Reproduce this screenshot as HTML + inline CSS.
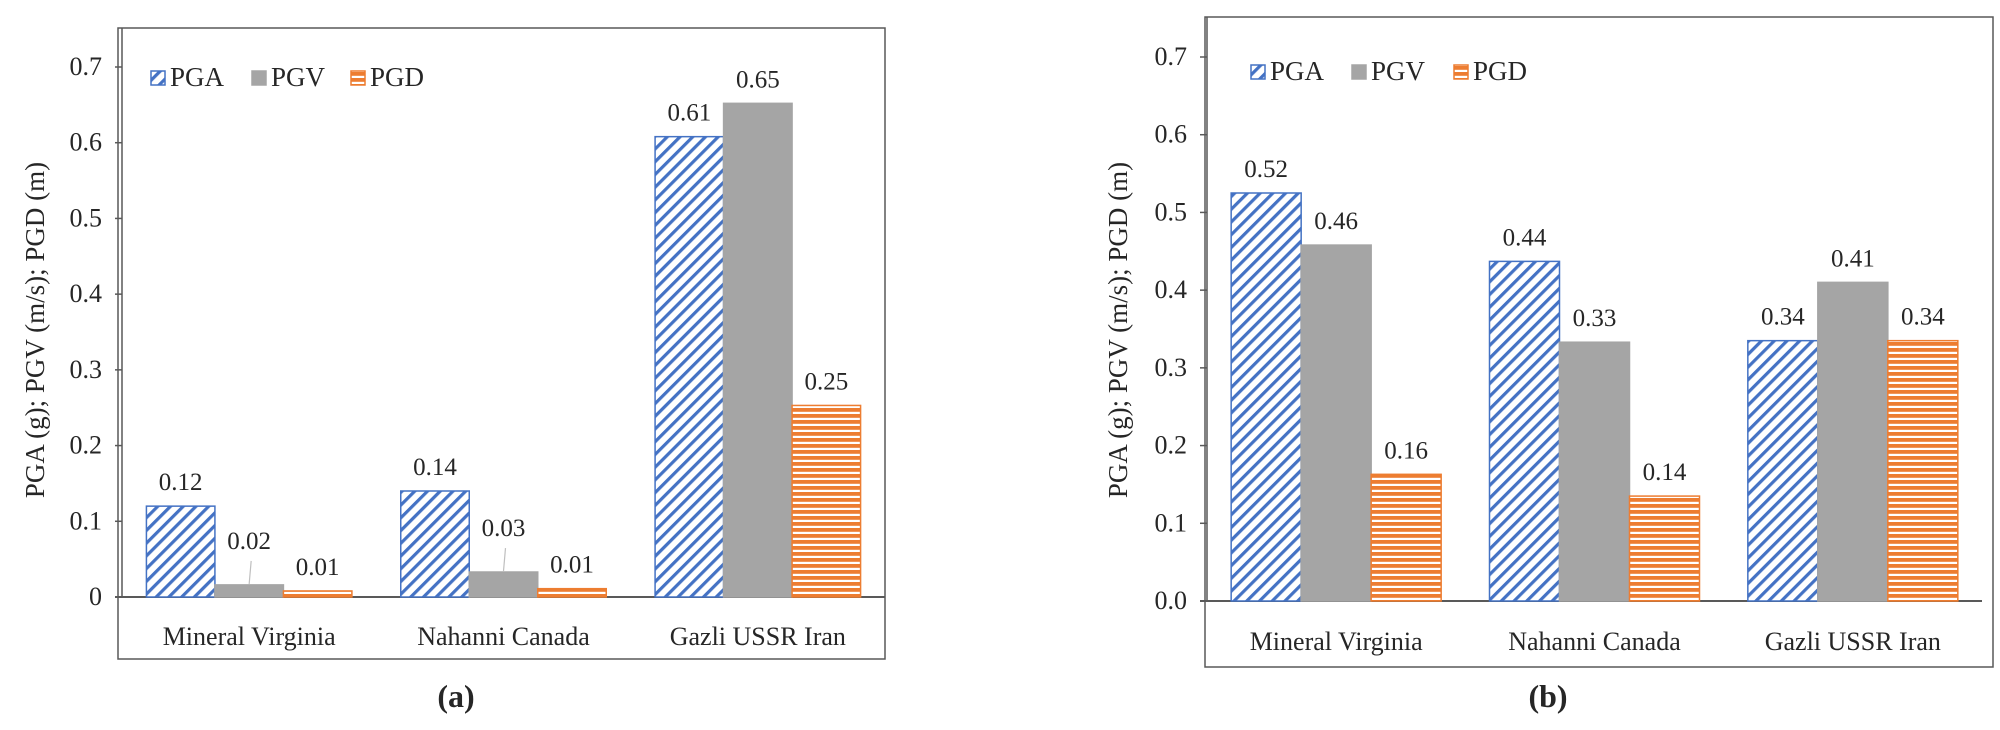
<!DOCTYPE html>
<html><head><meta charset="utf-8"><style>
body{margin:0;background:#fff;width:2000px;height:730px;overflow:hidden}
svg{display:block;font-family:"Liberation Serif","Times New Roman","DejaVu Serif",serif}
svg text{font-family:"Liberation Serif","Times New Roman","DejaVu Serif",serif;fill:#262626}
</style></head><body>
<svg id="fig" width="2000" height="730" font-family="Liberation Serif, serif">
<defs>
<pattern id="hatchA" patternUnits="userSpaceOnUse" width="9" height="9" patternTransform="rotate(45)">
<rect width="9" height="9" fill="#fff"/><rect width="3.2" height="9" fill="#4472C4"/></pattern>
<pattern id="hatchD" patternUnits="userSpaceOnUse" width="6" height="6">
<rect width="6" height="6" fill="#fff"/><rect width="6" height="3.8" fill="#ED7D31"/></pattern>
</defs>
</svg>
<script>
const categories=["Mineral Virginia","Nahanni Canada","Gazli USSR Iran"];
const seriesNames=["PGA","PGV","PGD"];
const aPGA=[0.12,0.14,0.608];
const aPGV=[0.016,0.033,0.652];
const aPGD=[0.008,0.011,0.253];
const aLabels=[["0.12","0.14","0.61"],["0.02","0.03","0.65"],["0.01","0.01","0.25"]];
const bPGA=[0.525,0.437,0.335];
const bPGV=[0.458,0.333,0.41];
const bPGD=[0.163,0.135,0.335];
const bLabels=[["0.52","0.44","0.34"],["0.46","0.33","0.41"],["0.16","0.14","0.34"]];
const aTicks=["0","0.1","0.2","0.3","0.4","0.5","0.6","0.7"];
const bTicks=["0.0","0.1","0.2","0.3","0.4","0.5","0.6","0.7"];
const tickVals=[0,0.1,0.2,0.3,0.4,0.5,0.6,0.7];

const NS="http://www.w3.org/2000/svg";
const svg=document.getElementById('fig');
const FONT='Liberation Serif, Times New Roman, DejaVu Serif, serif';
function mk(tag,attrs,parent,txt){const e=document.createElementNS(NS,tag);for(const k in attrs)e.setAttribute(k,attrs[k]);if(txt!==undefined){e.textContent=txt;e.setAttribute('font-family',FONT);}(parent||svg).appendChild(e);return e;}
const fills=["url(#hatchA)","#A5A5A5","url(#hatchD)"];
const strokes=["#4472C4","#A5A5A5","#ED7D31"];

function chart(cfg){
  const g=mk('g',{});
  
  
  const y=v=>cfg.y0-(v/0.7)*(cfg.y0-cfg.y7);
  const fr=mk('rect',{x:cfg.fx,y:cfg.fy,width:cfg.fw,height:cfg.fh,fill:'none',stroke:'#595959','stroke-width':1.5},g);
  
  
  const ax=mk('line',{x1:cfg.px,x2:cfg.px,y1:cfg.fy,y2:y(0),stroke:'#595959','stroke-width':1.5},g);
  
  
  tickVals.forEach((v,i)=>{
    mk('line',{x1:cfg.px-7,x2:cfg.px,y1:y(v),y2:y(v),stroke:'#595959','stroke-width':1.5},g);
    const t=mk('text',{x:cfg.px-20,y:y(v)+8,'text-anchor':'end','font-size':26},g,cfg.ticks[i]);
    
    
  });
  const xa=mk('line',{x1:cfg.px-7,x2:cfg.px+cfg.pw,y1:y(0),y2:y(0),stroke:'#595959','stroke-width':2},g);
  
  
  const yt=mk('text',{x:0,y:0,'text-anchor':'middle','font-size':27,transform:`translate(${cfg.ytx},${cfg.yty}) rotate(-90)`},g,'PGA (g); PGV (m/s); PGD (m)');
  
  
  const cw=cfg.pw/categories.length;
  categories.forEach((c,ci)=>{
    const cx=cfg.px+cw*ci+cw/2;
    const cl=mk('text',{x:cx,y:cfg.cy,'text-anchor':'middle','font-size':26},g,c);
    
    
    cfg.series.forEach((s,si)=>{
      const bx=cx-1.5*cfg.bw+si*cfg.bw;
      const v=s[ci];
      const r=mk('rect',{x:bx,y:y(v),width:cfg.bw,height:y(0)-y(v),fill:fills[si],stroke:strokes[si],'stroke-width':1.5},g);
      
      
      const lead=cfg.leaders&&cfg.leaders[si]&&cfg.leaders[si][ci];
      let ly=y(v)-16;
      if(lead){
        ly=y(v)-36;
        mk('line',{x1:bx+cfg.bw/2,y1:y(v)-1,x2:bx+cfg.bw/2+2,y2:y(v)-24,stroke:'#bfbfbf','stroke-width':1.2},g);
      }
      const vl=mk('text',{x:bx+cfg.bw/2,y:ly,'text-anchor':'middle','font-size':25},g,cfg.labels[si][ci]);
      
      
    });
  });
  const lg=mk('g',{},g);
  
  
  seriesNames.forEach((n,si)=>{
    const lx=cfg.lx[si];
    const sw=mk('rect',{x:lx,y:cfg.ly-15,width:14,height:14,fill:fills[si],stroke:strokes[si],'stroke-width':1.5},lg);
    
    
    const t=mk('text',{x:lx+19,y:cfg.ly,'font-size':27},lg,n);
    
    
  });
  const pl=mk('text',{x:cfg.capx,y:707,'text-anchor':'middle','font-size':32,'font-weight':'bold'},g,cfg.cap);
  
  
}
chart({name:'chart-a',fx:118,fy:28,fw:767,fh:631,px:122,pw:763,y0:597,y7:67,bw:68.5,
  series:[aPGA,aPGV,aPGD],labels:aLabels,ticks:aTicks,ytx:44,yty:330,cy:645,
  leaders:[null,[true,true,false],null],lx:[151,252,351],ly:86,cap:'(a)',capx:456});
chart({name:'chart-b',fx:1205,fy:17,fw:788,fh:650,px:1207,pw:775,y0:601,y7:57,bw:70,
  series:[bPGA,bPGV,bPGD],labels:bLabels,ticks:bTicks,ytx:1127,yty:330,cy:650,
  leaders:null,lx:[1251,1352,1454],ly:80,cap:'(b)',capx:1548});
</script>
</body></html>
